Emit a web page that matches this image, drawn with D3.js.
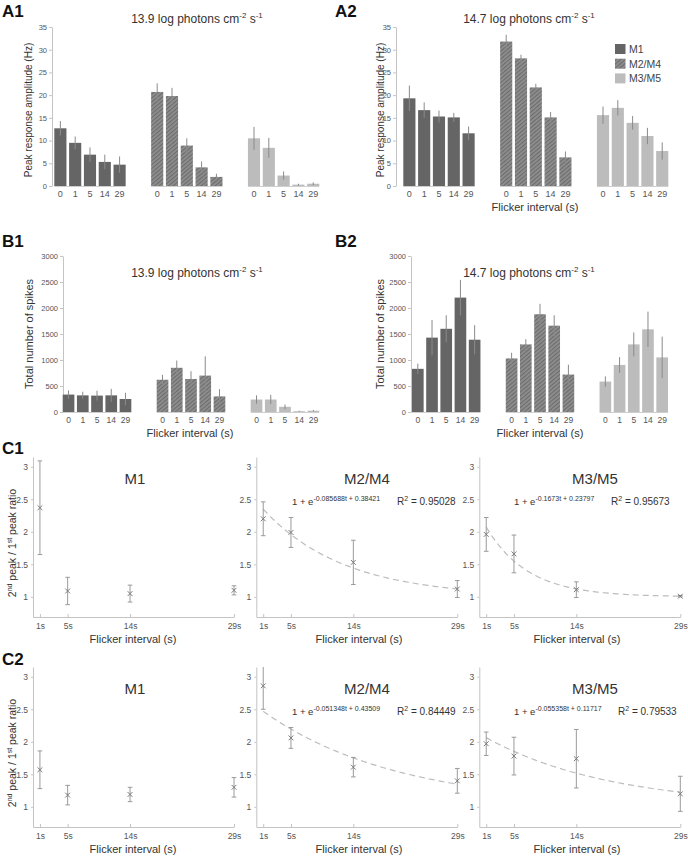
<!DOCTYPE html>
<html><head><meta charset="utf-8">
<script src="https://cdn.jsdelivr.net/npm/d3@7"></script>
<style>
body{margin:0;background:#fff}
svg{display:block}
text{font-family:"Liberation Sans",Arial,Helvetica,sans-serif}
</style>
</head><body>
<svg id="fig" width="688" height="858"></svg>
<script>
// ---------------- DATA ----------------
const groups = ["M1", "M2/M4", "M3/M5"];
const intervals = ["0", "1", "5", "14", "29"];

// A1: peak response amplitude (Hz), 13.9 log photons
const a1M1 = [12.7, 9.5, 6.9, 5.3, 4.7];
const a1M1Err = [1.6, 1.4, 1.6, 1.6, 1.8];
const a1M2 = [20.7, 19.8, 8.9, 4.1, 2.0];
const a1M2Err = [1.9, 1.8, 1.6, 1.3, 0.7];
const a1M3 = [10.5, 8.4, 2.3, 0.3, 0.5];
const a1M3Err = [2.5, 2.2, 0.9, 0.2, 0.3];

// A2: peak response amplitude (Hz), 14.7 log photons
const a2M1 = [19.3, 16.7, 15.3, 15.1, 11.6];
const a2M1Err = [2.8, 1.7, 1.3, 1.0, 1.5];
const a2M2 = [31.8, 28.1, 21.7, 15.1, 6.3];
const a2M2Err = [1.5, 0.8, 0.8, 1.2, 1.3];
const a2M3 = [15.6, 17.2, 13.9, 11.0, 7.7];
const a2M3Err = [1.9, 1.7, 1.5, 1.8, 1.9];

// B1: total number of spikes, 13.9 log photons
const b1M1 = [335, 320, 315, 320, 250];
const b1M1Err = [80, 70, 95, 125, 120];
const b1M2 = [620, 850, 635, 700, 300];
const b1M2Err = [95, 140, 150, 370, 140];
const b1M3 = [240, 240, 100, 15, 25];
const b1M3Err = [80, 90, 45, 10, 12];

// B2: total number of spikes, 14.7 log photons
const b2M1 = [830, 1430, 1600, 2200, 1390];
const b2M1Err = [100, 340, 260, 340, 280];
const b2M2 = [1030, 1300, 1880, 1660, 720];
const b2M2Err = [110, 100, 200, 200, 190];
const b2M3 = [585, 905, 1300, 1590, 1050];
const b2M3Err = [100, 150, 230, 340, 400];

const aTicks = [0, 5, 10, 15, 20, 25, 30, 35];
const bTicks = [0, 500, 1000, 1500, 2000, 2500, 3000];

// C: 2nd peak / 1st peak ratio
const cIntervals = [1, 5, 14, 29];
const cTicks = [1, 1.5, 2, 2.5, 3];
const c1M1 = [2.37, 1.09, 1.05, 1.10];
const c1M1Err = [0.72, 0.21, 0.13, 0.07];
const c1M2 = [2.20, 1.99, 1.53, 1.12];
const c1M2Err = [0.26, 0.23, 0.34, 0.13];
const c1M3 = [1.96, 1.66, 1.11, 1.01];
const c1M3Err = [0.26, 0.29, 0.12, 0.01];
const c2M1 = [1.57, 1.18, 1.19, 1.30];
const c2M1Err = [0.29, 0.15, 0.11, 0.15];
const c2M2 = [2.86, 2.06, 1.61, 1.40];
const c2M2Err = [0.36, 0.16, 0.15, 0.19];
const c2M3 = [1.97, 1.78, 1.74, 1.20];
const c2M3Err = [0.18, 0.29, 0.45, 0.27];

// fitted models 1 + exp(k t + c) shown in the figure
const c1M2Fit = {k: -0.085688, c: 0.38421, r2: "0.95028", eq: "-0.085688t + 0.38421"};
const c1M3Fit = {k: -0.1673, c: 0.23797, r2: "0.95673", eq: "-0.1673t + 0.23797"};
const c2M2Fit = {k: -0.051348, c: 0.43509, r2: "0.84449", eq: "-0.051348t + 0.43509"};
const c2M3Fit = {k: -0.055358, c: 0.11717, r2: "0.79533", eq: "-0.055358t + 0.11717"};

// ---------------- DRAW ----------------
const svg = d3.select("#fig");
const defs = svg.append("defs");
const pat = defs.append("pattern").attr("id", "hatch")
  .attr("patternUnits", "userSpaceOnUse").attr("width", 3).attr("height", 3)
  .attr("patternTransform", "rotate(-40)");
pat.append("rect").attr("width", 3).attr("height", 3).attr("fill", "#8e8e8e");
pat.append("rect").attr("width", 3).attr("height", 1.1).attr("fill", "#6c6c6c");

const fills = ["#656565", "url(#hatch)", "#bcbcbc"];

function styleAxis(sel, fs) {
  sel.select(".domain").attr("stroke", "#c4c4c4");
  sel.selectAll(".tick line").attr("stroke", "#c4c4c4");
  sel.selectAll(".tick text").attr("fill", "#555").style("font-size", fs + "px")
    .style("font-family", '"Liberation Sans",Arial,sans-serif');
}

function supText(g, x, y, parts, opts) {
  const t = g.append("text").attr("x", x).attr("y", y)
    .attr("fill", opts.fill || "#333").style("font-size", opts.fs + "px")
    .attr("text-anchor", opts.anchor || "start");
  if (opts.rotate) t.attr("transform", `rotate(-90,${x},${y})`);
  const sh = opts.fs * 0.42;
  let inSup = false;
  parts.forEach(([s, sup]) => {
    const ts = t.append("tspan").text(s);
    let dy = 0;
    if (sup && !inSup) dy = -sh;
    if (!sup && inSup) dy = sh;
    ts.attr("dy", dy);
    if (sup) ts.style("font-size", (opts.supfs || opts.fs * 0.65) + "px");
    inSup = sup;
  });
  return t;
}

function barPanel(o) {
  const y = d3.scaleLinear().domain([0, o.ymax]).range([o.y0, o.y1]);
  const gx = d3.scaleBand().domain(groups).range(o.xr).paddingInner(o.gpad).paddingOuter(0);
  const bx = d3.scaleBand().domain(intervals).range([0, gx.bandwidth()]).paddingInner(0.18).paddingOuter(0);
  const g = svg.append("g");
  const ax = g.append("g").attr("transform", `translate(${o.ax},0)`)
    .call(d3.axisLeft(y).tickValues(o.ticks).tickSize(3).tickSizeOuter(0).tickPadding(2)
      .tickFormat(d => String(d)));
  styleAxis(ax, o.yfs);
  o.vals.forEach((vals, i) => {
    const errs = o.errs[i];
    const gg = g.append("g").attr("transform", `translate(${gx(groups[i])},0)`);
    gg.append("line").attr("x1", 0).attr("x2", gx.bandwidth())
      .attr("y1", y(0) + 0.5).attr("y2", y(0) + 0.5).attr("stroke", "#cfcfcf");
    gg.selectAll("rect.bar").data(intervals).join("rect").attr("class", "bar")
      .attr("x", d => bx(d)).attr("width", bx.bandwidth())
      .attr("y", (d, j) => y(vals[j])).attr("height", (d, j) => y(0) - y(vals[j]))
      .attr("fill", fills[i]);
    gg.selectAll("line.err").data(intervals).join("line").attr("class", "err")
      .attr("x1", d => bx(d) + bx.bandwidth() / 2).attr("x2", d => bx(d) + bx.bandwidth() / 2)
      .attr("y1", (d, j) => y(Math.max(0, vals[j] - errs[j])))
      .attr("y2", (d, j) => y(vals[j] + errs[j]))
      .attr("stroke", "#8a8a8a").attr("stroke-width", 1);
    gg.selectAll("text.lab").data(intervals).join("text").attr("class", "lab")
      .attr("x", d => bx(d) + bx.bandwidth() / 2).attr("y", o.labY)
      .attr("text-anchor", "middle").attr("fill", "#555").style("font-size", o.xfs + "px")
      .text(d => d);
  });
  supText(g, o.titleX, o.titleY,
    [[o.title + " log photons cm", false], ["-2", true], [" s", false], ["-1", true]],
    {fs: 12, anchor: "middle", fill: "#333", supfs: 8});
  g.append("text").attr("x", o.ylX).attr("y", o.ylY).attr("text-anchor", "middle")
    .attr("transform", `rotate(-90,${o.ylX},${o.ylY})`)
    .attr("fill", "#333").style("font-size", o.ylfs + "px").text(o.ylabel);
  if (o.xlabel) {
    g.append("text").attr("x", o.xlX).attr("y", o.xlY).attr("text-anchor", "middle")
      .attr("fill", "#333").style("font-size", "11px").text(o.xlabel);
  }
}

// A1
barPanel({ymax: 35, y0: 186, y1: 27, xr: [54.3, 319.3], gpad: 0.263, ax: 52, ticks: aTicks,
  vals: [a1M1, a1M2, a1M3], errs: [a1M1Err, a1M2Err, a1M3Err],
  yfs: 7.5, xfs: 9, labY: 196.5, title: "13.9", titleX: 197, titleY: 23,
  ylabel: "Peak response amplitude (Hz)", ylX: 32, ylY: 110, ylfs: 10});
// A2
barPanel({ymax: 35, y0: 186, y1: 27, xr: [403.3, 668.3], gpad: 0.263, ax: 396, ticks: aTicks,
  vals: [a2M1, a2M2, a2M3], errs: [a2M1Err, a2M2Err, a2M3Err],
  yfs: 7.5, xfs: 9, labY: 196.5, title: "14.7", titleX: 529, titleY: 23,
  ylabel: "Peak response amplitude (Hz)", ylX: 384, ylY: 110, ylfs: 10,
  xlabel: "Flicker interval (s)", xlX: 535, xlY: 211});
// B1
barPanel({ymax: 3000, y0: 412, y1: 256, xr: [62.7, 319.3], gpad: 0.27, ax: 63, ticks: bTicks,
  vals: [b1M1, b1M2, b1M3], errs: [b1M1Err, b1M2Err, b1M3Err],
  yfs: 7.5, xfs: 8.5, labY: 422.5, title: "13.9", titleX: 197, titleY: 277,
  ylabel: "Total number of spikes", ylX: 33, ylY: 334, ylfs: 11,
  xlabel: "Flicker interval (s)", xlX: 190, xlY: 437});
// B2
barPanel({ymax: 3000, y0: 412, y1: 256, xr: [412, 668], gpad: 0.27, ax: 411, ticks: bTicks,
  vals: [b2M1, b2M2, b2M3], errs: [b2M1Err, b2M2Err, b2M3Err],
  yfs: 7.5, xfs: 8.5, labY: 422.5, title: "14.7", titleX: 529, titleY: 277,
  ylabel: "Total number of spikes", ylX: 384, ylY: 334, ylfs: 11,
  xlabel: "Flicker interval (s)", xlX: 540, xlY: 437});

// legend in A2
const leg = svg.append("g");
groups.forEach((grp, i) => {
  leg.append("rect").attr("x", 615).attr("y", 44 + i * 14.7).attr("width", 10.5).attr("height", 10)
    .attr("fill", fills[i]);
  leg.append("text").attr("x", 629).attr("y", 53 + i * 14.7).attr("fill", "#444")
    .style("font-size", "10.5px").text(grp);
});

// C panels
function ratioPanel(o) {
  const x = d3.scaleLinear().domain([0, 29]).range([o.x0, o.x0 + 201]);
  const y = d3.scaleLinear().domain([0.69, 3.15]).range([o.ybot, o.ybot - 160]);
  const g = svg.append("g");
  const ay = g.append("g").attr("transform", `translate(${o.x0},0)`)
    .call(d3.axisLeft(y).tickValues(cTicks).tickSize(2).tickSizeOuter(0).tickPadding(3).tickFormat(d => String(d)));
  styleAxis(ay, 8.5);
  const axb = g.append("g").attr("transform", `translate(0,${o.ybot})`)
    .call(d3.axisBottom(x).tickValues(cIntervals).tickSizeInner(-3).tickSizeOuter(0).tickPadding(6).tickFormat(d => d + "s"));
  styleAxis(axb, 8.5);
  if (o.fit) {
    const ts = d3.range(1, 29.001, 0.25);
    const line = d3.line().x(t => x(t)).y(t => y(1 + Math.exp(o.fit.k * t + o.fit.c)));
    g.append("path").attr("d", line(ts)).attr("fill", "none").attr("stroke", "#bdbdbd")
      .attr("stroke-width", 1.2).attr("stroke-dasharray", "6,4");
  }
  cIntervals.forEach((t, j) => {
    const cx = x(t), m = o.means[j], e = o.errs[j];
    const top = Math.min(y.domain()[1], m + e);
    g.append("line").attr("x1", cx).attr("x2", cx).attr("y1", y(m - e)).attr("y2", y(top))
      .attr("stroke", "#9a9a9a").attr("stroke-width", 1);
    [m - e, m + e].forEach(v => {
      if (v <= y.domain()[1]) g.append("line").attr("x1", cx - 2.3).attr("x2", cx + 2.3)
        .attr("y1", y(v)).attr("y2", y(v)).attr("stroke", "#9a9a9a").attr("stroke-width", 1);
    });
    const s = 2.4, cy = y(m);
    g.append("path").attr("d", `M${cx - s},${cy - s}L${cx + s},${cy + s}M${cx - s},${cy + s}L${cx + s},${cy - s}`)
      .attr("stroke", "#7a7a7a").attr("stroke-width", 1).attr("fill", "none");
  });
  g.append("text").attr("x", o.titleX).attr("y", o.ybot - 133).attr("text-anchor", "middle")
    .attr("fill", "#333").style("font-size", "15px").text(o.title);
  if (o.fit) {
    supText(g, o.eqX, o.ybot - 112, [["1 + e", false], [o.fit.eq, true]], {fs: 9.5, supfs: 7, fill: "#333"});
    supText(g, o.r2X, o.ybot - 112, [["R", false], ["2", true], [" = " + o.fit.r2, false]], {fs: 10, supfs: 7, fill: "#333"});
  }
  g.append("text").attr("x", o.xlX).attr("y", o.ybot + 26).attr("text-anchor", "middle")
    .attr("fill", "#333").style("font-size", "11px").text("Flicker interval (s)");
  if (o.ylabel) {
    supText(g, 16, o.ybot - 74,
      [["2", false], ["nd", true], [" peak / 1", false], ["st", true], [" peak ratio", false]],
      {fs: 10.5, supfs: 7, anchor: "middle", rotate: true, fill: "#333"});
  }
}

ratioPanel({x0: 33, ybot: 617, means: c1M1, errs: c1M1Err, title: "M1", titleX: 135, xlX: 133, ylabel: true});
ratioPanel({x0: 256.3, ybot: 617, means: c1M2, errs: c1M2Err, title: "M2/M4", titleX: 367, xlX: 359,
  fit: c1M2Fit, eqX: 292, r2X: 397});
ratioPanel({x0: 479.3, ybot: 617, means: c1M3, errs: c1M3Err, title: "M3/M5", titleX: 595, xlX: 577,
  fit: c1M3Fit, eqX: 514, r2X: 611});
ratioPanel({x0: 33, ybot: 827, means: c2M1, errs: c2M1Err, title: "M1", titleX: 135, xlX: 133, ylabel: true});
ratioPanel({x0: 256.3, ybot: 827, means: c2M2, errs: c2M2Err, title: "M2/M4", titleX: 367, xlX: 359,
  fit: c2M2Fit, eqX: 292, r2X: 397});
ratioPanel({x0: 479.3, ybot: 827, means: c2M3, errs: c2M3Err, title: "M3/M5", titleX: 595, xlX: 577,
  fit: c2M3Fit, eqX: 514, r2X: 618});

// panel letters
[["A1", 2, 17], ["A2", 335, 17], ["B1", 2, 247], ["B2", 335, 247], ["C1", 2, 454], ["C2", 2, 665]]
  .forEach(([t, x, y]) => svg.append("text").attr("x", x).attr("y", y).attr("fill", "#111")
    .style("font-size", "17px").style("font-weight", "bold").text(t));
</script>
</body></html>
